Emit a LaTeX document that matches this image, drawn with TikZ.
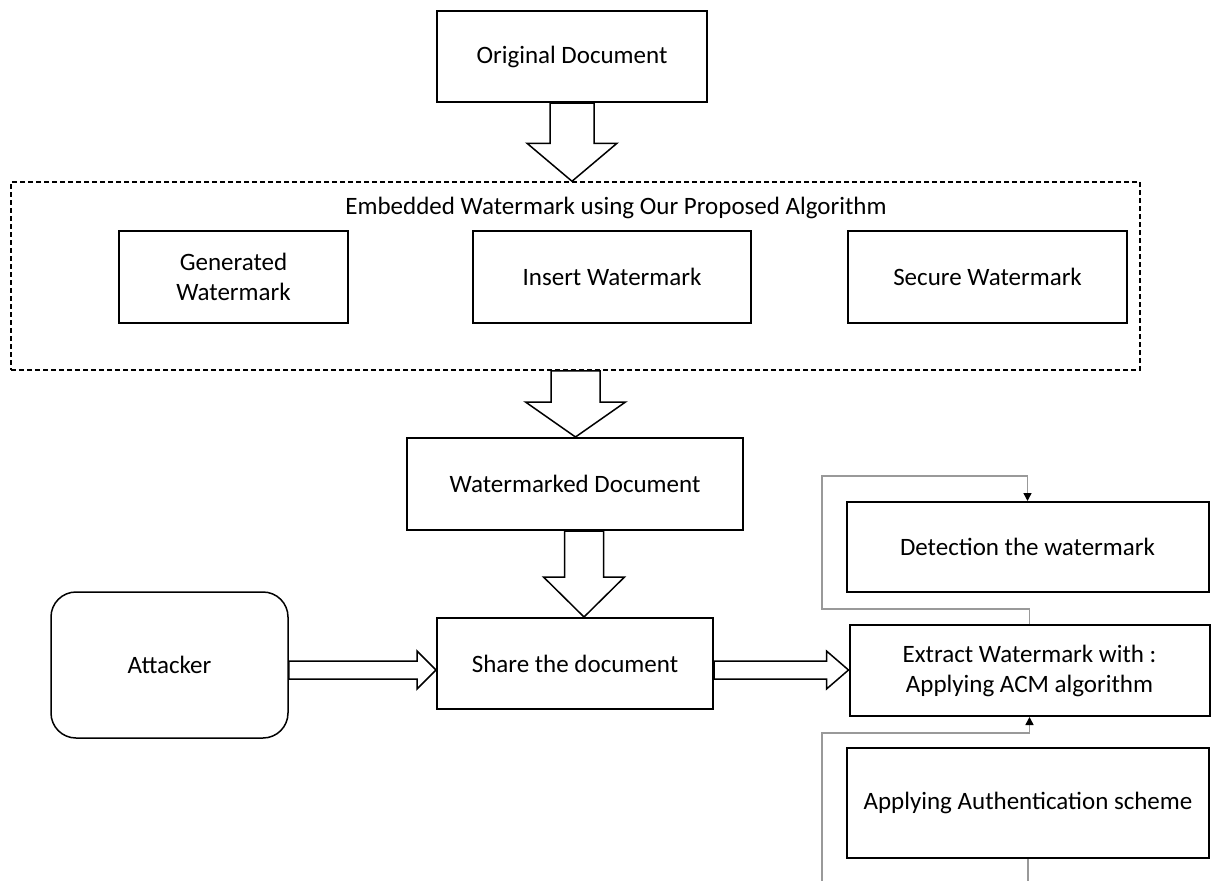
\documentclass[tikz,border=0pt]{standalone}
\usepackage{fontspec}
\setmainfont{Carlito}
\usetikzlibrary{arrows.meta,calc}
\tikzset{
  box/.style={draw=black, line width=2pt, fill=white, inner sep=0pt, align=center},
  dashbox/.style={draw=black, line width=1.5pt, dash pattern=on 5pt off 3pt, inner sep=0pt},
  roundbox/.style={draw=black, line width=1.5pt, fill=white, rounded corners=25pt, inner sep=0pt, align=center},
  blk/.style={draw=black, line width=1.5pt, fill=white, line join=miter},
  conn/.style={draw=black!40, line width=1.5pt},
  tip/.style={-{Triangle[length=8pt,width=8pt,black]}},
  lbl/.style={font=\fontsize{25}{30}\selectfont}
}
\newcommand\blockV[5]{%
  \draw[blk] let \p1=(#1), \p2=(#2) in
    (\x1-#3pt,\y1) -- (\x1-#3pt,\y2+#5pt) -- (\x1-#4pt,\y2+#5pt) -- (\x1,\y2)
    -- (\x1+#4pt,\y2+#5pt) -- (\x1+#3pt,\y2+#5pt) -- (\x1+#3pt,\y1) -- cycle;}
\newcommand\blockH[5]{%
  \draw[blk] let \p1=(#1), \p2=(#2) in
    (\x1,\y1+#3pt) -- (\x2-#5pt,\y1+#3pt) -- (\x2-#5pt,\y1+#4pt) -- (\x2,\y1)
    -- (\x2-#5pt,\y1-#4pt) -- (\x2-#5pt,\y1-#3pt) -- (\x1,\y1-#3pt) -- cycle;}
\begin{document}
\begin{tikzpicture}[x=1pt,y=-1pt]
\useasboundingbox[fill=white] (0,0) rectangle (1211,881);

\node[box, lbl, minimum width=270pt, minimum height=91pt] (orig) at (572,56.5) {Original Document};

\node[dashbox, minimum width=1129pt, minimum height=188pt] (embed) at (575.5,276) {};
\node[lbl, inner sep=0pt] (title) at (616,208) {Embedded Watermark using Our Proposed Algorithm};
\node[box, lbl, minimum width=229pt, minimum height=92pt] (gen) at (233.5,277) {Generated\\Watermark};
\node[box, lbl, minimum width=278pt, minimum height=92pt] (ins) at (612,277) {Insert Watermark};
\node[box, lbl, minimum width=279pt, minimum height=92pt] (sec) at (987.5,277) {Secure Watermark};

\node[box, lbl, minimum width=336pt, minimum height=92pt] (wm) at (575,484) {Watermarked Document};
\node[box, lbl, minimum width=276pt, minimum height=91pt] (share) at (575,663.5) {Share the document};
\node[roundbox, lbl, minimum width=237pt, minimum height=146pt] (att) at (169.5,665) {Attacker};

\node[box, lbl, minimum width=362pt, minimum height=90pt] (det) at (1027.5,547) {Detection the watermark};
\node[box, lbl, minimum width=360pt, minimum height=91pt] (ext) at (1029.5,670.5) {Extract Watermark with :\\Applying ACM algorithm};
\node[box, lbl, minimum width=362pt, minimum height=110pt] (auth) at (1028,803) {Applying Authentication scheme};

% block arrows
\blockV{orig.south}{embed.north}{22}{45}{38}
\blockV{embed.south}{wm.north}{24.5}{50}{35}
\blockV{$(wm.south)+(9,0)$}{share.north}{19.5}{40.5}{40}
\blockH{$(att.east)+(0,5)$}{share.west}{9}{19}{19}
\blockH{$(share.east)+(0,6.5)$}{ext.west}{9}{19}{22}

% gray connectors
\coordinate (b1) at (822,881);
\coordinate (b2) at (auth.south |- 0,881);
\draw[conn, tip] (ext.north) |- (822,609) |- ($(det.north)+(0,-25)$) -- (det.north);
\draw[conn, tip] (b1) |- ($(ext.south)+(0,16)$) -- (ext.south);
\draw[conn] (auth.south) -- (b2);
\end{tikzpicture}
\end{document}
